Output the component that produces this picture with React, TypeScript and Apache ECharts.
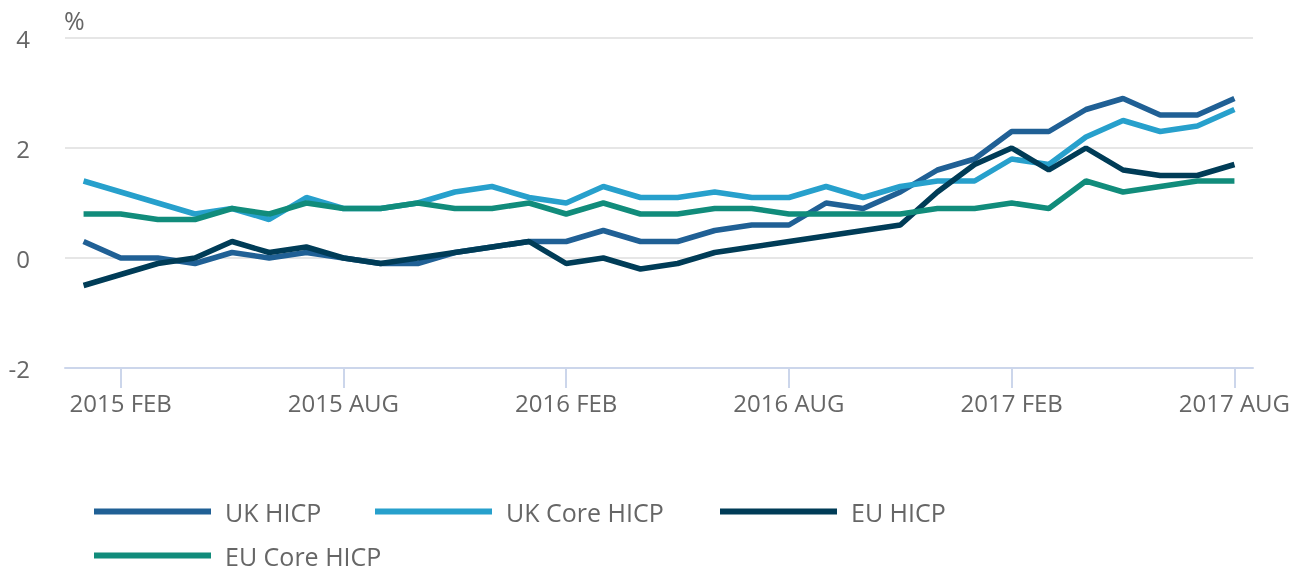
import React, { useEffect, useRef } from "react";
import * as echarts from "echarts";

const categories = [
  "2015 JAN", "2015 FEB", "2015 MAR", "2015 APR", "2015 MAY", "2015 JUN",
  "2015 JUL", "2015 AUG", "2015 SEP", "2015 OCT", "2015 NOV", "2015 DEC",
  "2016 JAN", "2016 FEB", "2016 MAR", "2016 APR", "2016 MAY", "2016 JUN",
  "2016 JUL", "2016 AUG", "2016 SEP", "2016 OCT", "2016 NOV", "2016 DEC",
  "2017 JAN", "2017 FEB", "2017 MAR", "2017 APR", "2017 MAY", "2017 JUN",
  "2017 JUL", "2017 AUG",
];

const ukHicp = [
  0.3, 0.0, 0.0, -0.1, 0.1, 0.0, 0.1, 0.0, -0.1, -0.1, 0.1, 0.2,
  0.3, 0.3, 0.5, 0.3, 0.3, 0.5, 0.6, 0.6, 1.0, 0.9, 1.2, 1.6,
  1.8, 2.3, 2.3, 2.7, 2.9, 2.6, 2.6, 2.9,
];
const ukCoreHicp = [
  1.4, 1.2, 1.0, 0.8, 0.9, 0.7, 1.1, 0.9, 0.9, 1.0, 1.2, 1.3,
  1.1, 1.0, 1.3, 1.1, 1.1, 1.2, 1.1, 1.1, 1.3, 1.1, 1.3, 1.4,
  1.4, 1.8, 1.7, 2.2, 2.5, 2.3, 2.4, 2.7,
];
const euHicp = [
  -0.5, -0.3, -0.1, 0.0, 0.3, 0.1, 0.2, 0.0, -0.1, 0.0, 0.1, 0.2,
  0.3, -0.1, 0.0, -0.2, -0.1, 0.1, 0.2, 0.3, 0.4, 0.5, 0.6, 1.2,
  1.7, 2.0, 1.6, 2.0, 1.6, 1.5, 1.5, 1.7,
];
const euCoreHicp = [
  0.8, 0.8, 0.7, 0.7, 0.9, 0.8, 1.0, 0.9, 0.9, 1.0, 0.9, 0.9,
  1.0, 0.8, 1.0, 0.8, 0.8, 0.9, 0.9, 0.8, 0.8, 0.8, 0.8, 0.9,
  0.9, 1.0, 0.9, 1.4, 1.2, 1.3, 1.4, 1.4,
];

const seriesNames = ["UK HICP", "UK Core HICP", "EU HICP", "EU Core HICP"];
const seriesColors = ["#206095", "#27a0cc", "#003c57", "#118c7b"];
const seriesData = [ukHicp, ukCoreHicp, euHicp, euCoreHicp];
const yTicks = { min: -2, max: 4, interval: 2 };

const FONT = "'Open Sans', 'Noto Sans', sans-serif";
const TEXT = "#666666";

export default function App() {
  const ref = useRef<HTMLDivElement>(null);

  useEffect(() => {
    if (!ref.current) return;
    const chart = echarts.init(ref.current, undefined, { renderer: "svg" });
    const showIdx = (i: number) => i % 6 === 1;

    const legendPos = [
      { left: 94, top: 499 },
      { left: 375, top: 499 },
      { left: 720, top: 499 },
      { left: 94, top: 543 },
    ];

    chart.setOption({
      animation: false,
      textStyle: { fontFamily: FONT },
      grid: { left: 65, right: 49, top: 38, bottom: 208, containLabel: false },
      graphic: [
        {
          type: "text",
          left: 64,
          top: 7,
          style: { text: "%", fontSize: 25, fill: TEXT, fontFamily: FONT },
        },
      ],
      legend: seriesNames.map((n, i) => ({
        data: [n],
        left: legendPos[i].left,
        top: legendPos[i].top,
        icon: "rect",
        itemWidth: 117,
        itemHeight: 6,
        padding: 0,
        selectedMode: false,
        textStyle: {
          fontSize: 25,
          lineHeight: 24,
          color: TEXT,
          fontFamily: FONT,
          padding: [0, 0, 0, 9],
        },
      })),
      xAxis: {
        type: "category",
        data: categories,
        boundaryGap: true,
        axisLine: {
          show: true,
          onZero: false,
          lineStyle: { color: "#ccd6eb", width: 2 },
        },
        axisTick: {
          show: true,
          alignWithLabel: true,
          interval: showIdx,
          length: 20,
          lineStyle: { color: "#ccd6eb", width: 2 },
        },
        axisLabel: {
          interval: showIdx,
          fontSize: 24,
          color: TEXT,
          margin: 22,
          fontFamily: FONT,
        },
        splitLine: { show: false },
      },
      yAxis: {
        type: "value",
        min: yTicks.min,
        max: yTicks.max,
        interval: yTicks.interval,
        axisLine: { show: false },
        axisTick: { show: false },
        axisLabel: { fontSize: 24, color: TEXT, margin: 35, fontFamily: FONT },
        splitLine: { show: true, lineStyle: { color: "#e6e6e6", width: 2 } },
      },
      series: seriesNames.map((n, i) => ({
        name: n,
        type: "line",
        data: seriesData[i],
        symbol: "none",
        lineStyle: { width: 5.5, color: seriesColors[i] },
        itemStyle: { color: seriesColors[i] },
        z: 2 + i,
      })),
    });

    return () => chart.dispose();
  }, []);

  return (
    <div
      ref={ref}
      style={{ position: "fixed", left: 0, top: 0, width: 1302, height: 576 }}
    />
  );
}
